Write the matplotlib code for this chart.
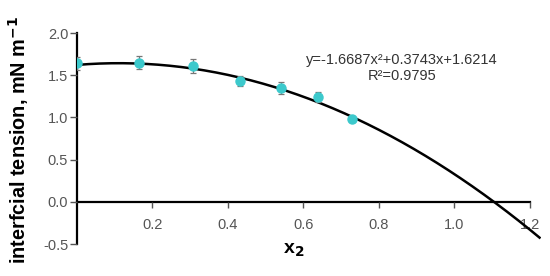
import numpy as np
import matplotlib
matplotlib.use('Agg')
import matplotlib.pyplot as plt

plt.rcParams['font.family'] = ['Liberation Sans', 'DejaVu Sans']

# measured points
x2 = [0.0, 0.165, 0.309, 0.433, 0.540, 0.638, 0.728]
tension = [1.64, 1.65, 1.61, 1.435, 1.345, 1.245, 0.98]
err = [0.08, 0.08, 0.085, 0.06, 0.07, 0.06, 0.03]

# quadratic trendline as printed on the chart
fit_coef = [-1.6687, 0.3743, 1.6214]
fit_r2 = 0.9795

xticks = [0.2, 0.4, 0.6, 0.8, 1.0, 1.2]
yticks = [-0.5, 0.0, 0.5, 1.0, 1.5, 2.0]

fig = plt.figure(figsize=(5.5, 2.76), dpi=100)
ax = fig.add_axes([0.1391, 0.1159, 0.8453, 0.7645])

xs = np.linspace(0, 1.225, 200)
ax.plot(xs, np.polyval(fit_coef, xs), color='black', lw=1.8, zorder=2)

ax.errorbar(x2, tension, yerr=err, fmt='o', color='#3cc9cc', ms=6.5,
            ecolor='#777777', elinewidth=0.9, capsize=2.5, capthick=0.9, zorder=3)

ax.set_xlim(0, 1.23)
ax.set_ylim(-0.5, 2.0)

ax.spines['top'].set_visible(False)
ax.spines['right'].set_visible(False)
ax.spines['bottom'].set_position(('data', 0))
ax.spines['bottom'].set_bounds(0, 1.2)
ax.spines['left'].set_bounds(-0.5, 2.0)
for s in ['left', 'bottom']:
    ax.spines[s].set_linewidth(1.6)
    ax.spines[s].set_zorder(1)

ax.set_xticks(xticks)
ax.set_xticklabels(['%.1f' % v for v in xticks])
ax.set_yticks(yticks)
ax.set_yticklabels(['%.1f' % v for v in yticks])
ax.tick_params(axis='x', direction='out', length=4.5, width=1, pad=7,
               labelsize=10.5, labelcolor='#555555', color='#555555')
ax.tick_params(axis='y', direction='out', length=5, width=1, pad=1,
               labelsize=10.5, labelcolor='#555555', color='#555555')

fig.text(0.033, 0.493, 'interfcial tension, mN m$^{\\mathbf{-1}}$', rotation=90,
         ha='center', va='center', fontsize=14.3, fontweight='bold')
fig.text(0.514, 0.093, 'x$_\\mathbf{2}$', ha='left', va='center',
         fontsize=14, fontweight='bold')

ax.text(0.861, 1.685, 'y=%.4fx\u00b2+%.4fx+%.4f' % tuple(fit_coef),
        ha='center', va='center', fontsize=10.5, color='#333333')
ax.text(0.861, 1.485, 'R\u00b2=%.4f' % fit_r2,
        ha='center', va='center', fontsize=10.5, color='#333333')

fig.savefig('out.png', dpi=100)
